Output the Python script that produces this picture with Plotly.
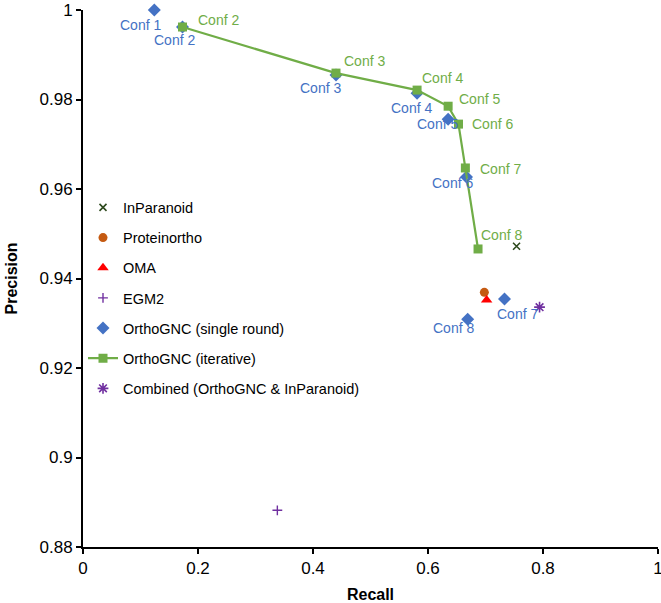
import plotly.graph_objects as go

# ---------------- data ----------------
conf_labels = ["Conf 1", "Conf 2", "Conf 3", "Conf 4", "Conf 5", "Conf 6", "Conf 7", "Conf 8"]

single_recall = [0.124, 0.173, 0.440, 0.581, 0.635, 0.667, 0.733, 0.669]
single_precision = [1.000, 0.9962, 0.9855, 0.9814, 0.9756, 0.9627, 0.9354, 0.9309]

iter_labels = ["Conf 2", "Conf 3", "Conf 4", "Conf 5", "Conf 6", "Conf 7", "Conf 8"]
iter_recall = [0.173, 0.440, 0.581, 0.635, 0.653, 0.665, 0.687]
iter_precision = [0.9962, 0.9859, 0.9821, 0.9785, 0.9745, 0.9647, 0.9466]

inparanoid = (0.754, 0.9472)
proteinortho = (0.698, 0.9369)
oma = (0.702, 0.9352)
egm2 = (0.338, 0.8882)
combined = (0.794, 0.9336)

x_ticks = [0, 0.2, 0.4, 0.6, 0.8, 1]
y_ticks = [0.88, 0.9, 0.92, 0.94, 0.96, 0.98, 1]

# ---------------- style ----------------
BLUE = "#4472C4"
GREEN = "#70AD47"
PURPLE = "#7030A0"
FONT = "Liberation Sans, Arial, sans-serif"

# pixel offsets (dx right, dy down) of the point labels
single_offsets = [(-14, 15), (-8, 13), (-16, 13), (-6, 15), (-11, 5), (-14, 6), (13, 15), (-14, 9)]
iter_offsets = [(36, -7), (28, -12), (25, -12), (31, -7), (34, 0), (35, 1), (23, -14)]

fig = go.Figure()

fig.add_trace(go.Scatter(
    x=[inparanoid[0]], y=[inparanoid[1]], mode="markers", name="InParanoid",
    marker=dict(symbol="x-thin-open", size=7, color="#2E4A1E", line=dict(color="#2E4A1E", width=1.6)),
    legendgroup="a", cliponaxis=False))
fig.add_trace(go.Scatter(
    x=[proteinortho[0]], y=[proteinortho[1]], mode="markers", name="Proteinortho",
    marker=dict(symbol="circle", size=9, color="#C55A11"),
    legendgroup="b", cliponaxis=False))
fig.add_trace(go.Scatter(
    x=[oma[0]], y=[oma[1]], mode="markers", name="OMA",
    marker=dict(symbol="triangle-up", size=10, color="#FF0000"),
    legendgroup="c", cliponaxis=False))
fig.add_trace(go.Scatter(
    x=[egm2[0]], y=[egm2[1]], mode="markers", name="EGM2",
    marker=dict(symbol="cross-thin-open", size=7, color=PURPLE, line=dict(color=PURPLE, width=1.4)),
    legendgroup="d", cliponaxis=False))
fig.add_trace(go.Scatter(
    x=single_recall, y=single_precision, mode="markers", name="OrthoGNC (single round)",
    marker=dict(symbol="diamond", size=10, color=BLUE),
    legendgroup="e", cliponaxis=False))
fig.add_trace(go.Scatter(
    x=iter_recall, y=iter_precision, mode="lines+markers", name="OrthoGNC (iterative)",
    line=dict(color=GREEN, width=2.2),
    marker=dict(symbol="square", size=9, color=GREEN),
    legendgroup="f", cliponaxis=False))
fig.add_trace(go.Scatter(
    x=[combined[0]], y=[combined[1]], mode="markers", name="Combined (OrthoGNC & InParanoid)",
    marker=dict(symbol="asterisk-open", size=9, color=PURPLE, line=dict(color=PURPLE, width=1.6)),
    legendgroup="g", cliponaxis=False))

annotations = []
for lab, xv, yv, (dx, dy) in zip(conf_labels, single_recall, single_precision, single_offsets):
    annotations.append(dict(x=xv, y=yv, text=lab, showarrow=False, xshift=dx, yshift=-dy,
                            font=dict(family=FONT, size=14, color=BLUE)))
for lab, xv, yv, (dx, dy) in zip(iter_labels, iter_recall, iter_precision, iter_offsets):
    annotations.append(dict(x=xv, y=yv, text=lab, showarrow=False, xshift=dx, yshift=-dy,
                            font=dict(family=FONT, size=14, color=GREEN)))

fig.update_layout(
    width=661, height=603,
    margin=dict(l=83, r=3, t=10, b=56, autoexpand=False),
    paper_bgcolor="white", plot_bgcolor="white",
    font=dict(family=FONT, size=14, color="black"),
    annotations=annotations,
    showlegend=True,
    legend=dict(x=0.0, y=0.662, xanchor="left", yanchor="top",
                bgcolor="rgba(0,0,0,0)", font=dict(family=FONT, size=14.5, color="black"),
                tracegroupgap=8.3, itemwidth=30),
    xaxis=dict(range=[0, 1], tickvals=x_ticks, ticktext=[f"{v:g}" for v in x_ticks],
               showline=True, linecolor="black", linewidth=2, automargin=False,
               ticks="outside", ticklen=5, tickwidth=2, tickcolor="black",
               showgrid=False, zeroline=False, ticklabeloverflow="allow",
               tickfont=dict(family=FONT, size=17, color="black"),
               title=dict(text="<b>Recall</b>", font=dict(family=FONT, size=16, color="black"),
                          standoff=17)),
    yaxis=dict(range=[0.88, 1], tickvals=y_ticks, ticktext=[f"{v:g}" for v in y_ticks],
               showline=True, linecolor="black", linewidth=2, automargin=False,
               ticks="outside", ticklen=5, tickwidth=2, tickcolor="black",
               showgrid=False, zeroline=False, ticklabeloverflow="allow",
               tickfont=dict(family=FONT, size=17, color="black"),
               title=dict(text="<b>Precision</b>", font=dict(family=FONT, size=16, color="black"),
                          standoff=18)),
)

fig.write_html("out.html", config={"displayModeBar": False},
               post_script="document.body.style.margin='0';")
